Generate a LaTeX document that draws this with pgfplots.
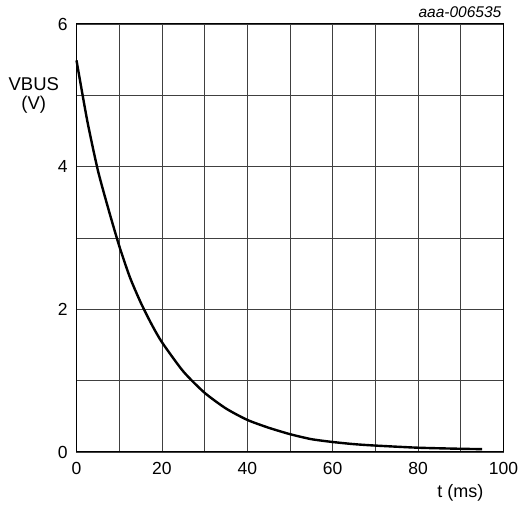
\documentclass[border=0pt]{standalone}
\usepackage{pgfplots}
\pgfplotsset{compat=1.18}
\usepackage{fontspec}
\setmainfont{Liberation Sans}
\begin{document}
\begin{tikzpicture}[x=1pt,y=1pt]
\begin{axis}[
  scale only axis,
  width=427pt, height=428pt,
  xmin=0, xmax=100, ymin=0, ymax=6,
  xtick={0,20,...,100}, minor xtick={10,30,...,90},
  ytick={0,2,4,6}, minor ytick={1,3,5},
  grid=both,
  major grid style={black!75, line width=0.8pt},
  minor grid style={black!75, line width=0.8pt},
  major tick length=0pt, minor tick length=0pt,
  axis line style={black, line width=1pt},
  tick label style={font=\fontsize{17.5}{19}\selectfont},
  /pgf/number format/assume math mode=true,
  xticklabel style={yshift=-6.5pt},
  yticklabel style={xshift=-5.4pt},
  clip=false,
]
\addplot[black, line width=2.4pt, smooth, tension=0.4] coordinates {
(0,5.49) (2.5,4.65) (5,3.95) (7.5,3.4) (10,2.89) (12.5,2.45) (15,2.1)
(17.5,1.8) (20,1.54) (25,1.13) (30,0.83) (35,0.61) (40,0.45) (45,0.34)
(50,0.25) (55,0.18) (60,0.14) (65,0.11) (70,0.09) (80,0.06) (90,0.045) (95,0.04)
};
\end{axis}
\node[font=\fontsize{18.5}{21}\selectfont, anchor=base, inner sep=0pt] at (-42.7pt,361.5pt) {VBUS};
\node[font=\fontsize{18.5}{21}\selectfont, anchor=base, inner sep=0pt] at (-42.7pt,342.5pt) {(V)};
\node[font=\fontsize{18}{20}\selectfont, inner sep=0pt] at (383.8pt,-40.7pt) {t (ms)};
\node[font=\fontsize{15.5}{17}\selectfont\itshape, anchor=base east, inner sep=0pt] at (425pt,434pt) {aaa-006535};
\useasboundingbox (-76.5pt,-53pt) rectangle (445.5pt,452pt);
\end{tikzpicture}
\end{document}
